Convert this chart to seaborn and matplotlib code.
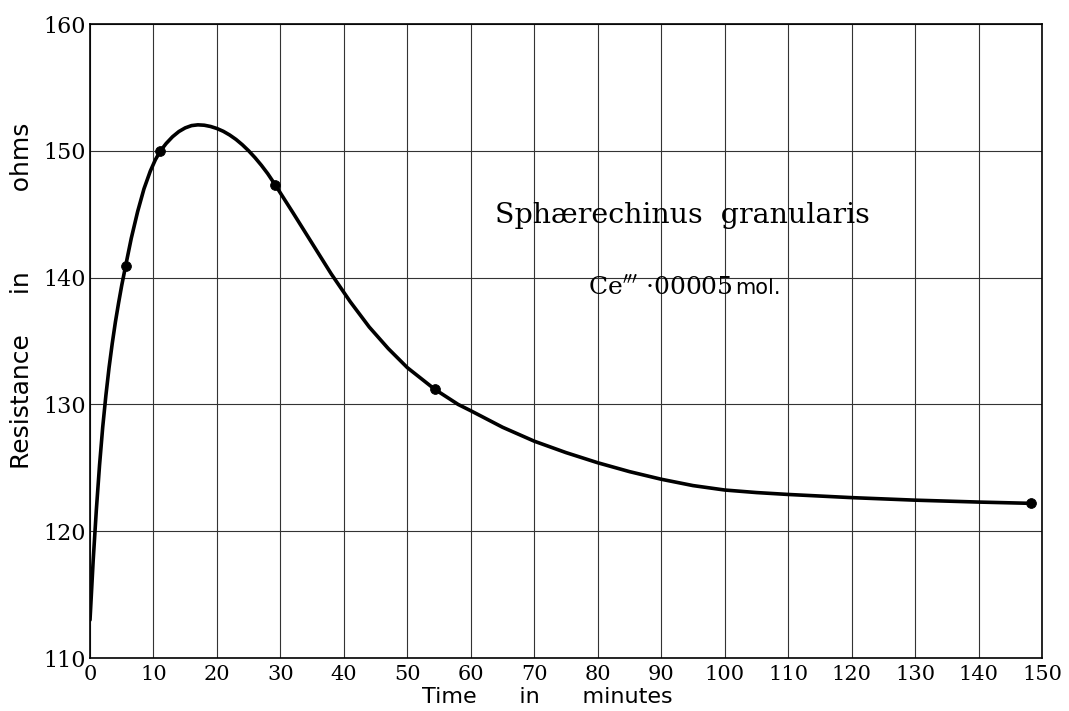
import matplotlib
matplotlib.use("Agg")
import matplotlib.pyplot as plt
import seaborn as sns
import pandas as pd

# Observed points (marked with dots)
obs_time = [5.6, 11.1, 29.2, 54.3, 148.2]
obs_res = [140.9, 150.0, 147.3, 131.2, 122.2]

# Drawn smooth curve
curve_time = [0, 0.5, 1, 1.5, 2, 2.5, 3, 3.5, 4, 4.5, 5, 5.6, 6.5, 7.5, 8.5, 9.5, 10.3, 11.1,
              12, 13, 14, 15, 16, 17, 18, 19, 20, 21, 22, 23, 24, 25, 26, 27, 28, 29.2, 32,
              35, 38, 41, 44, 47, 50, 54.3, 58, 60, 65, 70, 75, 80, 85, 90, 95, 100, 105,
              110, 120, 130, 140, 148.2]
curve_res = [113.0, 117.7, 121.7, 125.2, 128.2, 130.7, 132.9, 134.8, 136.5, 138.0, 139.4,
             140.9, 143.1, 145.2, 147.0, 148.4, 149.3, 150.0,
             150.58, 151.11, 151.52, 151.81, 151.99, 152.05, 152.02, 151.92, 151.76, 151.54,
             151.25, 150.9, 150.48, 150.0, 149.46, 148.86, 148.2, 147.3, 145.1,
             142.7, 140.3, 138.1, 136.1, 134.4, 132.9,
             131.2, 130.0, 129.5, 128.2, 127.1, 126.2, 125.4, 124.7, 124.1, 123.6, 123.25,
             123.05, 122.9, 122.65, 122.45, 122.3, 122.2]

x_ticks = list(range(0, 151, 10))
y_ticks = [110, 120, 130, 140, 150, 160]

sns.set_theme(style="white")
plt.rcParams['font.family'] = ['DejaVu Sans']

fig = plt.figure(figsize=(10.69, 7.11), dpi=100)
ax = fig.add_axes([0.0842, 0.0745, 0.8906, 0.8917])

curve = pd.DataFrame({"t": curve_time, "r": curve_res})
obs = pd.DataFrame({"t": obs_time, "r": obs_res})
sns.lineplot(data=curve, x="t", y="r", ax=ax, color="black", linewidth=2.6, sort=False)
sns.scatterplot(data=obs, x="t", y="r", ax=ax, color="black", s=50, edgecolor="black", zorder=5)

ax.set_xlim(0, 150)
ax.set_ylim(110, 160)
ax.set_xticks(x_ticks)
ax.set_yticks(y_ticks)
ax.set_xticklabels([str(v) for v in x_ticks], fontfamily="DejaVu Serif", fontsize=15)
ax.set_yticklabels([str(v) for v in y_ticks], fontfamily="DejaVu Serif", fontsize=16)
ax.tick_params(axis="x", length=0, pad=5, labelcolor="black")
ax.tick_params(axis="y", length=0, pad=3, labelcolor="black")
ax.grid(True, color="#333333", linewidth=0.8)
for s in ax.spines.values():
    s.set_color("black")
    s.set_linewidth(1.2)

ax.set_xlabel("Time      in      minutes", fontsize=16, fontfamily="DejaVu Sans", color="black")
ax.xaxis.set_label_coords(0.48, -0.046)
ax.set_ylabel("Resistance     in          ohms", fontsize=18, fontfamily="DejaVu Sans",
              color="black")
ax.yaxis.set_label_coords(-0.059, 0.571)

ax.text(93.4, 144.9, "Sphærechinus  granularis", fontfamily="DejaVu Serif", fontsize=20.5,
        ha="center", va="center", color="black")
ax.text(101.2, 139.2, r"Ce$^{\prime\prime\prime}$ ·00005", fontfamily="DejaVu Serif",
        fontsize=18, ha="right", va="center", color="black")
ax.text(101.6, 139.2, "mol.", fontfamily="DejaVu Sans", fontsize=15, ha="left", va="center",
        color="black")

fig.savefig("out.png", dpi=100, facecolor="white")
